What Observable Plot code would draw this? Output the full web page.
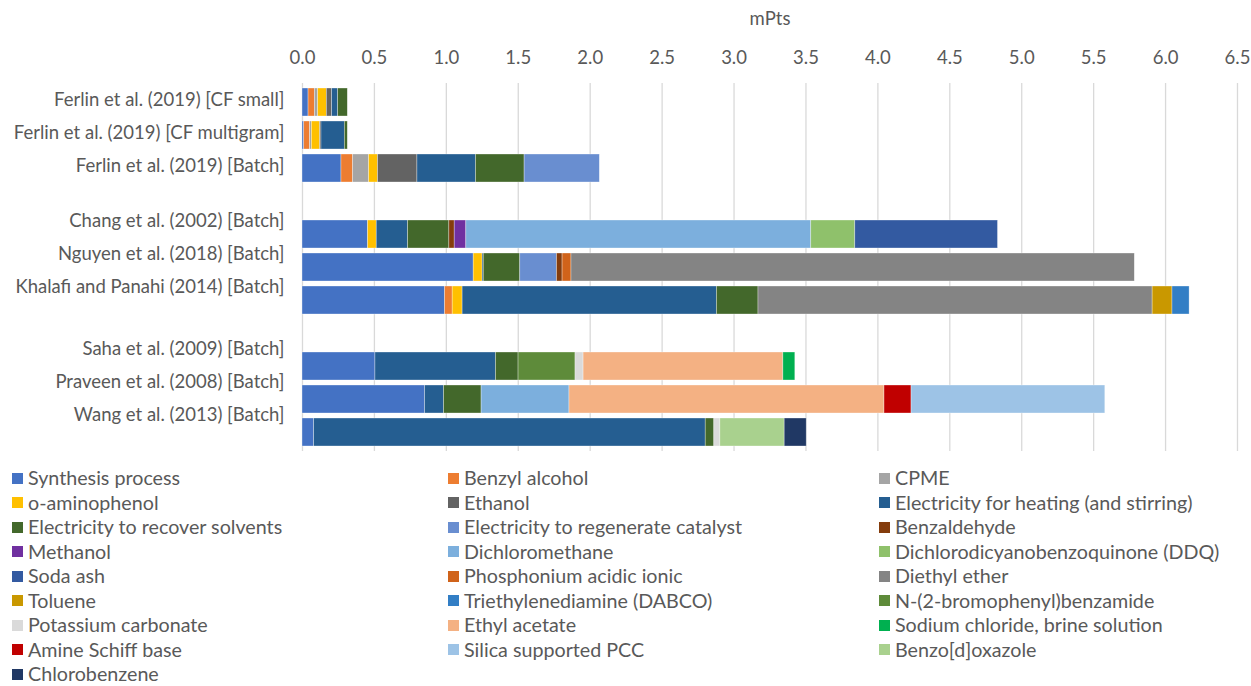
<!DOCTYPE html>
<html>
<head>
<meta charset="utf-8">
<script src="https://cdn.jsdelivr.net/npm/d3@7"></script>
<script src="https://cdn.jsdelivr.net/npm/@observablehq/plot@0.6"></script>
<style>
  html, body { margin: 0; padding: 0; background: #ffffff; }
  body { font-family: Lato, "Open Sans", sans-serif; color: #595959; width: 1251px; }
  #legend {
    display: grid;
    grid-template-columns: 436px 431px 1fr;
    padding: 5px 0 0 12px;
  }
  .item { display: flex; align-items: center; height: 24.5px; font-size: 19.7px; line-height: 1; white-space: nowrap; }
  .swatch { width: 11px; height: 11px; margin-right: 5px; flex: none; }
</style>
</head>
<body>
<div id="chart"></div>
<div id="legend"></div>
<script>
// Studies, grouped; blank rows separate the three groups
const groupFerlin = [
  "Ferlin et al. (2019) [CF small]",
  "Ferlin et al. (2019) [CF multigram]",
  "Ferlin et al. (2019) [Batch]"
];
const groupOxidative = [
  "Chang et al. (2002) [Batch]",
  "Nguyen et al. (2018) [Batch]",
  "Khalafi and Panahi (2014) [Batch]"
];
const groupOther = [
  "Saha et al. (2009) [Batch]",
  "Praveen et al. (2008) [Batch]",
  "Wang et al. (2013) [Batch]"
];
const gapA = " ";
const gapB = "  ";
const rowOrder = [...groupFerlin, gapA, ...groupOxidative, gapB, ...groupOther];

// Impact contributors (stacking and legend order)
const series = [
  "Synthesis process", "Benzyl alcohol", "CPME",
  "o-aminophenol", "Ethanol", "Electricity for heating (and stirring)",
  "Electricity to recover solvents", "Electricity to regenerate catalyst", "Benzaldehyde",
  "Methanol", "Dichloromethane", "Dichlorodicyanobenzoquinone (DDQ)",
  "Soda ash", "Phosphonium acidic ionic", "Diethyl ether",
  "Toluene", "Triethylenediamine (DABCO)", "N-(2-bromophenyl)benzamide",
  "Potassium carbonate", "Ethyl acetate", "Sodium chloride, brine solution",
  "Amine Schiff base", "Silica supported PCC", "Benzo[d]oxazole",
  "Chlorobenzene"
];
const colors = [
  "#4472C4", "#ED7D31", "#A5A5A5",
  "#FFC000", "#636363", "#255E91",
  "#43682B", "#698ED0", "#843C0C",
  "#7030A0", "#7CAFDD", "#8FC16B",
  "#335AA1", "#D0631A", "#848484",
  "#C99800", "#327EC5", "#5E8B3A",
  "#DADADA", "#F4B183", "#00B050",
  "#C00000", "#9DC3E6", "#A9D18E",
  "#203864"
];

// mPts per contributor, one value per entry of `series`
const ferlinSmall     = [0.042, 0.044, 0.023, 0.060, 0.037, 0.042, 0.067, 0, 0, 0, 0, 0, 0, 0, 0, 0, 0, 0, 0, 0, 0, 0, 0, 0, 0];
const ferlinMultigram = [0.012, 0.041, 0.012, 0.058, 0.009, 0.162, 0.021, 0, 0, 0, 0, 0, 0, 0, 0, 0, 0, 0, 0, 0, 0, 0, 0, 0, 0];
const ferlinBatch     = [0.271, 0.081, 0.111, 0.062, 0.274, 0.407, 0.338, 0.523, 0, 0, 0, 0, 0, 0, 0, 0, 0, 0, 0, 0, 0, 0, 0, 0, 0];
const chang           = [0.456, 0, 0, 0.060, 0, 0.218, 0.287, 0, 0.037, 0.081, 2.398, 0.306, 0.992, 0, 0, 0, 0, 0, 0, 0, 0, 0, 0, 0, 0];
const nguyen          = [1.190, 0, 0, 0.062, 0, 0.008, 0.254, 0.255, 0.039, 0, 0, 0, 0, 0.062, 3.916, 0, 0, 0, 0, 0, 0, 0, 0, 0, 0];
const khalafi         = [0.991, 0.053, 0, 0.069, 0, 1.768, 0.289, 0, 0, 0, 0, 0, 0, 0, 2.740, 0.138, 0.119, 0, 0, 0, 0, 0, 0, 0, 0];
const saha            = [0.507, 0, 0, 0, 0, 0.838, 0.157, 0, 0, 0, 0, 0, 0, 0, 0, 0, 0, 0.396, 0.056, 1.389, 0.083, 0, 0, 0, 0];
const praveen         = [0.852, 0, 0, 0, 0, 0.132, 0.261, 0, 0, 0, 0.611, 0, 0, 0, 0, 0, 0, 0, 0, 2.190, 0, 0.188, 1.347, 0, 0];
const wang            = [0.081, 0, 0, 0, 0, 2.722, 0.060, 0, 0, 0, 0, 0, 0, 0, 0, 0, 0, 0, 0.042, 0, 0, 0, 0, 0.447, 0.153];

const studyValues = [
  [groupFerlin[0], ferlinSmall],
  [groupFerlin[1], ferlinMultigram],
  [groupFerlin[2], ferlinBatch],
  [groupOxidative[0], chang],
  [groupOxidative[1], nguyen],
  [groupOxidative[2], khalafi],
  [groupOther[0], saha],
  [groupOther[1], praveen],
  [groupOther[2], wang]
];

const xTicks = [0, 0.5, 1, 1.5, 2, 2.5, 3, 3.5, 4, 4.5, 5, 5.5, 6, 6.5];

// Long-format table for the stacked bars
const table = studyValues.flatMap(([study, values]) =>
  values.map((value, i) => ({study, series: series[i], value})).filter((d) => d.value > 0)
);

const fontSize = 18.5;
const yAxis = (ticks, dy) => Plot.axisY(ticks, {
  anchor: "left", tickSize: 0, tickPadding: 18, dy, label: null, fontSize
});

const chart = Plot.plot({
  width: 1251,
  height: 461,
  marginTop: 83,
  marginLeft: 302,
  marginRight: 14,
  marginBottom: 10,
  style: {fontFamily: "Lato, 'Open Sans', sans-serif", fontSize: `${fontSize}px`, color: "#595959", background: "#ffffff"},
  x: {domain: [0, 6.5]},
  y: {domain: rowOrder, paddingInner: 0.16, paddingOuter: 0.08},
  color: {domain: series, range: colors},
  marks: [
    Plot.gridX(xTicks, {stroke: "#D9D9D9", strokeOpacity: 1, strokeWidth: 1.3}),
    Plot.barX(table, Plot.stackX({
      y: "study", x: "value", z: "series", fill: "series", order: series,
      stroke: "#ffffff", strokeWidth: 0.6, strokeOpacity: 0.55
    })),
    Plot.axisX(xTicks, {
      anchor: "top", tickSize: 0, tickPadding: 20, fontSize,
      tickFormat: (d) => d.toFixed(1),
      label: "mPts", labelAnchor: "center", labelOffset: 72, labelArrow: "none"
    }),
    yAxis(groupFerlin, -2),
    yAxis(groupOxidative, -13),
    yAxis(groupOther, -17)
  ]
});
document.getElementById("chart").appendChild(chart);

// Legend, three columns in series order
const legend = d3.select("#legend");
series.forEach((name, i) => {
  const item = legend.append("div").attr("class", "item");
  item.append("span").attr("class", "swatch").style("background", colors[i]);
  item.append("span").text(name);
});
</script>
</body>
</html>
